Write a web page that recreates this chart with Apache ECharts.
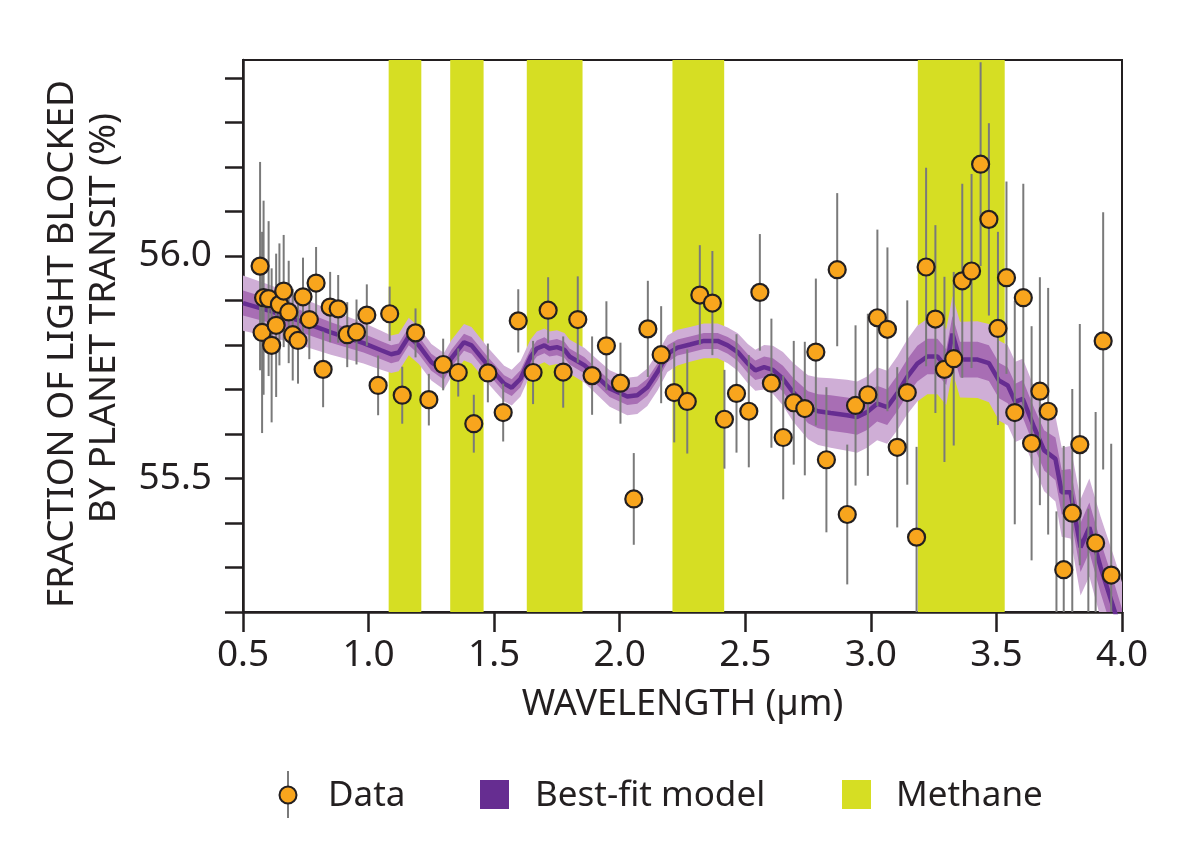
<!DOCTYPE html>
<html><head><meta charset="utf-8">
<script src="https://cdn.jsdelivr.net/npm/echarts@6/dist/echarts.min.js"></script>
<style>html,body{margin:0;padding:0;background:#fff}#c{width:1200px;height:862px}</style>
</head><body><div id="c"></div>
<script>
// ---- Data ----
const wavelengths = [0.568,0.576,0.582,0.602,0.614,0.632,0.645,0.662,0.682,0.698,0.719,0.739,0.764,0.791,0.819,0.847,0.879,0.915,0.952,0.993,
  1.038,1.084,1.134,1.187,1.240,1.297,1.357,1.419,1.475,1.536,1.596,1.655,1.715,1.775,1.833,1.890,1.947,2.003,2.056,2.112,
  2.165,2.217,2.269,2.319,2.369,2.417,2.465,2.514,2.558,2.604,2.651,2.693,2.737,2.781,2.823,2.866,2.906,2.939,2.988,3.026,
  3.066,3.105,3.145,3.182,3.220,3.257,3.293,3.330,3.364,3.401,3.437,3.470,3.506,3.540,3.573,3.607,3.640,3.673,3.706,3.739,
  3.768,3.802,3.832,3.866,3.895,3.925,3.957];
const fractions = [55.977,55.828,55.906,55.904,55.799,55.844,55.891,55.921,55.874,55.823,55.810,55.908,55.857,55.939,55.745,55.885,55.881,55.823,55.829,55.867,
  55.709,55.870,55.687,55.827,55.677,55.756,55.738,55.623,55.737,55.648,55.854,55.738,55.878,55.739,55.857,55.731,55.798,55.714,55.454,55.836,
  55.778,55.693,55.673,55.912,55.894,55.633,55.691,55.651,55.918,55.714,55.592,55.670,55.657,55.784,55.542,55.969,55.419,55.664,55.688,55.861,
  55.835,55.570,55.693,55.368,55.975,55.858,55.745,55.769,55.944,55.966,56.206,56.082,55.837,55.951,55.648,55.906,55.579,55.696,55.651,55.156,
  55.295,55.422,55.576,55.146,55.355,55.809,55.283];
const errors = [0.234,0.226,0.218,0.174,0.173,0.161,0.137,0.126,0.115,0.103,0.097,0.088,0.089,0.081,0.085,0.079,0.076,0.073,0.073,0.069,
  0.067,0.061,0.064,0.055,0.058,0.058,0.054,0.065,0.066,0.065,0.071,0.071,0.074,0.080,0.097,0.088,0.100,0.091,0.103,0.108,
  0.109,0.112,0.117,0.112,0.117,0.111,0.133,0.126,0.131,0.145,0.139,0.139,0.150,0.165,0.163,0.172,0.157,0.180,0.182,0.198,
  0.184,0.180,0.207,0.203,0.223,0.211,0.208,0.195,0.218,0.218,0.229,0.216,0.217,0.216,0.251,0.256,0.263,0.256,0.277,0.270,
  0.278,0.279,0.271,0.286,0.294,0.289,0.295];

const modelWavelengths = [0.50,0.61,0.72,0.85,0.98,1.05,1.09,1.12,1.16,1.20,1.25,1.30,1.33,1.38,1.41,1.475,1.54,1.57,1.605,1.645,
  1.67,1.70,1.72,1.75,1.78,1.80,1.86,1.91,1.96,2.03,2.07,2.11,2.15,2.19,2.23,2.28,2.335,2.39,2.43,2.47,
  2.51,2.54,2.575,2.61,2.65,2.69,2.75,2.79,2.84,2.905,2.945,2.985,3.025,3.065,3.105,3.145,3.185,3.225,3.265,3.30,
  3.325,3.355,3.425,3.47,3.51,3.545,3.575,3.605,3.65,3.69,3.735,3.76,3.795,3.835,3.87,3.915,3.97,4.00];
const modelValues = [55.894,55.876,55.855,55.828,55.804,55.788,55.779,55.783,55.819,55.799,55.761,55.741,55.770,55.806,55.799,55.754,55.713,55.704,55.724,55.773,
  55.792,55.799,55.792,55.795,55.789,55.774,55.754,55.728,55.702,55.684,55.687,55.705,55.739,55.780,55.794,55.801,55.809,55.809,55.799,55.784,
  55.758,55.743,55.750,55.744,55.724,55.694,55.660,55.651,55.647,55.642,55.638,55.649,55.668,55.660,55.691,55.728,55.758,55.774,55.774,55.750,
  55.825,55.767,55.767,55.759,55.720,55.709,55.672,55.679,55.615,55.563,55.544,55.469,55.469,55.345,55.390,55.300,55.203,55.147];
const modelSigma1 = [0.028,0.027,0.025,0.023,0.021,0.020,0.020,0.020,0.020,0.020,0.019,0.019,0.019,0.019,0.019,0.019,0.019,0.019,0.019,0.018,
  0.018,0.018,0.018,0.018,0.018,0.018,0.018,0.018,0.019,0.019,0.019,0.019,0.019,0.019,0.018,0.018,0.018,0.018,0.019,0.020,
  0.021,0.022,0.024,0.026,0.029,0.032,0.036,0.038,0.040,0.040,0.040,0.040,0.040,0.040,0.040,0.040,0.040,0.040,0.040,0.040,
  0.040,0.040,0.040,0.040,0.040,0.040,0.041,0.042,0.043,0.045,0.048,0.050,0.052,0.055,0.056,0.058,0.060,0.060];
const modelSigma2 = [0.062,0.058,0.054,0.050,0.046,0.044,0.042,0.042,0.042,0.042,0.041,0.041,0.041,0.041,0.041,0.040,0.040,0.040,0.040,0.039,
  0.038,0.038,0.038,0.038,0.038,0.038,0.039,0.040,0.041,0.042,0.042,0.042,0.042,0.041,0.040,0.039,0.039,0.039,0.040,0.042,
  0.044,0.046,0.050,0.054,0.060,0.066,0.072,0.076,0.078,0.080,0.080,0.080,0.082,0.082,0.083,0.084,0.085,0.085,0.085,0.085,
  0.085,0.085,0.086,0.088,0.090,0.090,0.090,0.090,0.090,0.092,0.096,0.100,0.104,0.108,0.110,0.114,0.118,0.120];

const methaneStart = [1.080,1.325,1.630,2.210,3.187];
const methaneEnd   = [1.210,1.458,1.852,2.416,3.533];

const yTickValues = [55.2,55.3,55.4,55.5,55.6,55.7,55.8,55.9,56.0,56.1,56.2,56.3,56.4];
const yLabelValues = [55.5,56.0];
const yMin = 55.2, yMax = 56.44, xMin = 0.5, xMax = 4.0;

const legendLabels = ['Data','Best-fit model','Methane'];

// ---- Styles ----
const INK = '#231f20', ORANGE = '#f8a51d', PURPLE = '#662d91',
      PURPLE1 = '#a86eb4', PURPLE2 = '#cfaed6', METHANE = '#d6de23', BAR = '#7a7a7a';
const FONT = '"Noto Sans", "Open Sans", sans-serif';

const chart = echarts.init(document.getElementById('c'), null, {renderer: 'canvas'});

function clipRect(params) {
  const cs = params.coordSys;
  return {type: 'rect', shape: {x: cs.x, y: cs.y, width: cs.width, height: cs.height}};
}

const option = {
  animation: false,
  backgroundColor: '#fff',
  grid: {left: 243, right: 78, top: 60, bottom: 250, show: true, borderColor: INK, borderWidth: 2, backgroundColor: 'transparent'},
  xAxis: {
    type: 'value', min: xMin, max: xMax, interval: 0.5,
    axisLine: {onZero: false, lineStyle: {color: INK, width: 2.5}},
    axisTick: {show: true, inside: false, length: 20, lineStyle: {color: INK, width: 2.5}},
    axisLabel: {fontSize: 37, fontFamily: FONT, color: INK, margin: 25, formatter: v => v.toFixed(1)},
    splitLine: {show: false},
    name: 'WAVELENGTH (µm)', nameLocation: 'middle', nameGap: 75,
    nameTextStyle: {fontSize: 36, fontFamily: FONT, color: INK}
  },
  yAxis: {
    type: 'value', min: yMin, max: yMax,
    axisLine: {onZero: false, lineStyle: {color: INK, width: 2.5}},
    axisTick: {show: true, inside: false, length: 18, customValues: yTickValues, lineStyle: {color: INK, width: 2.5}},
    axisLabel: {fontSize: 37, fontFamily: FONT, color: INK, margin: 31, customValues: yLabelValues, formatter: v => v.toFixed(1)},
    splitLine: {show: false}
  },
  graphic: [
    {type: 'text', x: 62, y: 344, rotation: Math.PI / 2,
     style: {text: 'FRACTION OF LIGHT BLOCKED', font: '37px ' + FONT, fill: INK, align: 'center', verticalAlign: 'middle'}},
    {type: 'text', x: 104, y: 318, rotation: Math.PI / 2,
     style: {text: 'BY PLANET TRANSIT (%)', font: '37px ' + FONT, fill: INK, align: 'center', verticalAlign: 'middle'}},
    // legend
    {type: 'line', shape: {x1: 288, y1: 771, x2: 288, y2: 818}, style: {stroke: BAR, lineWidth: 2}},
    {type: 'circle', shape: {cx: 288, cy: 795, r: 8.5}, style: {fill: ORANGE, stroke: INK, lineWidth: 2}},
    {type: 'text', x: 328, y: 796, style: {text: legendLabels[0], font: '35px ' + FONT, fill: INK, verticalAlign: 'middle'}},
    {type: 'rect', shape: {x: 480, y: 780, width: 29, height: 29}, style: {fill: PURPLE}},
    {type: 'text', x: 535, y: 796, style: {text: legendLabels[1], font: '35px ' + FONT, fill: INK, verticalAlign: 'middle'}},
    {type: 'rect', shape: {x: 842, y: 780, width: 29, height: 29}, style: {fill: METHANE}},
    {type: 'text', x: 896, y: 796, style: {text: legendLabels[2], font: '35px ' + FONT, fill: INK, verticalAlign: 'middle'}}
  ],
  series: [
    { // methane bands
      name: 'Methane', type: 'custom', z: 1,
      data: methaneStart.map((s, i) => [s, methaneEnd[i]]),
      encode: {x: [0, 1]},
      renderItem: function (params, api) {
        const cs = params.coordSys;
        const a = api.coord([api.value(0), yMax]);
        const b = api.coord([api.value(1), yMin]);
        return {type: 'rect', shape: {x: a[0], y: cs.y, width: b[0] - a[0], height: cs.height},
                style: {fill: METHANE}};
      }
    },
    { // model uncertainty bands
      name: 'Best-fit model band', type: 'custom', z: 2,
      data: modelWavelengths.map((x, i) => [x, modelValues[i] - modelSigma2[i], modelValues[i] + modelSigma2[i]]),
      encode: {x: 0, y: [1, 2]},
      renderItem: function (params, api) {
        if (params.dataIndex !== 0) return null;
        function poly(sig) {
          const up = modelWavelengths.map((x, i) => api.coord([x, modelValues[i] + sig[i]]));
          const lo = modelWavelengths.map((x, i) => api.coord([x, modelValues[i] - sig[i]])).reverse();
          return up.concat(lo);
        }
        return {type: 'group', clipPath: clipRect(params), children: [
          {type: 'polygon', shape: {points: poly(modelSigma2)}, style: {fill: PURPLE2}},
          {type: 'polygon', shape: {points: poly(modelSigma1)}, style: {fill: PURPLE1}}
        ]};
      }
    },
    { // model line
      name: 'Best-fit model', type: 'line', z: 3, showSymbol: false, smooth: false, clip: true,
      data: modelWavelengths.map((x, i) => [x, modelValues[i]]),
      lineStyle: {color: PURPLE, width: 4.5}
    },
    { // error bars
      name: 'Data error', type: 'custom', z: 4,
      data: wavelengths.map((x, i) => [x, fractions[i] - errors[i], fractions[i] + errors[i]]),
      encode: {x: 0, y: [1, 2]},
      renderItem: function (params, api) {
        const p0 = api.coord([api.value(0), api.value(1)]);
        const p1 = api.coord([api.value(0), api.value(2)]);
        return {type: 'group', clipPath: clipRect(params), children: [
          {type: 'line', shape: {x1: p0[0], y1: p0[1], x2: p1[0], y2: p1[1]}, style: {stroke: BAR, lineWidth: 2}}
        ]};
      }
    },
    { // data points
      name: 'Data', type: 'scatter', z: 5, clip: true,
      data: wavelengths.map((x, i) => [x, fractions[i]]),
      symbol: 'circle', symbolSize: 17,
      itemStyle: {color: ORANGE, borderColor: INK, borderWidth: 2.2, opacity: 1}
    }
  ]
};
chart.setOption(option);
</script></body></html>
